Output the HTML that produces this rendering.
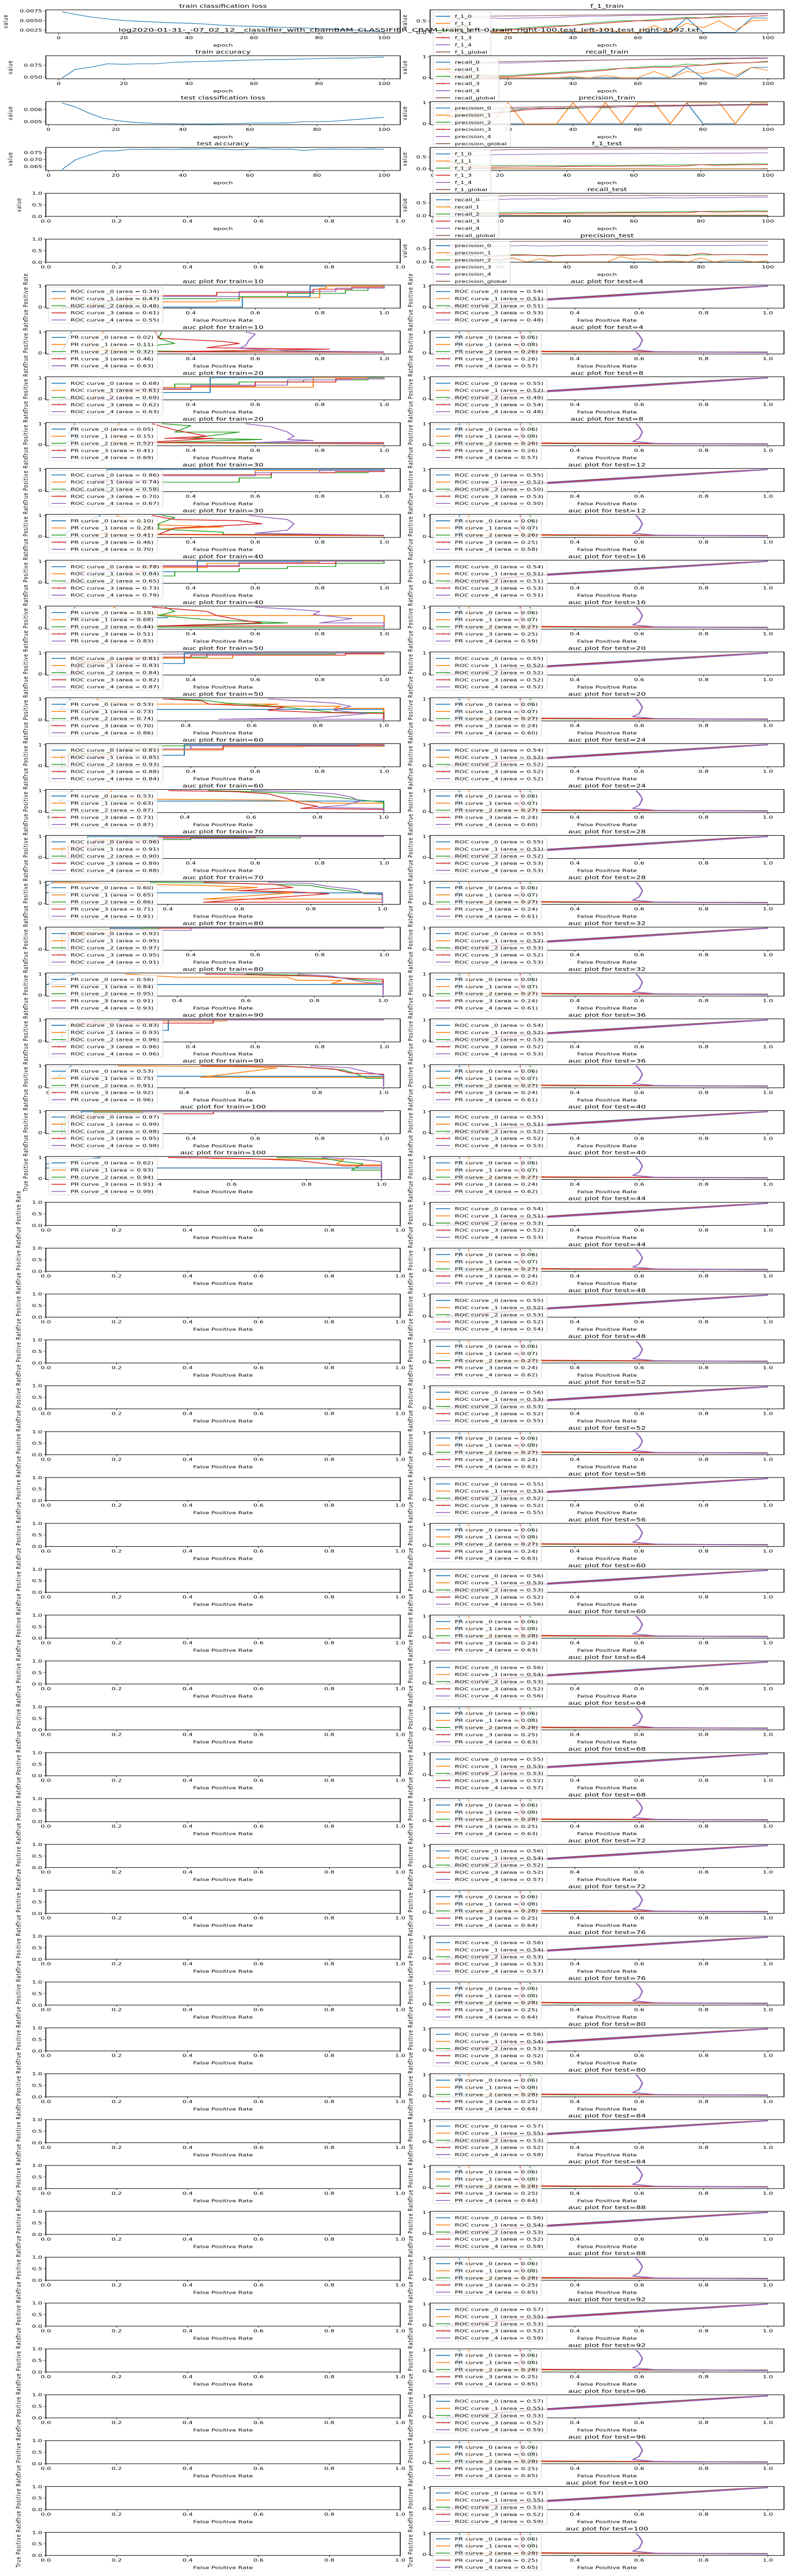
<!DOCTYPE html>
<html><head><meta charset="utf-8"><style>
html,body{margin:0;padding:0;background:#fff;overflow:hidden;width:100%;height:100%;}
svg{display:block;position:absolute;left:0;top:0;width:100vw;height:100vh;font-family:"DejaVu Sans","Liberation Sans",sans-serif;}
</style></head><body>
<svg id="fig" width="1524" height="7588" viewBox="0 0 1524 7588" preserveAspectRatio="none" xmlns="http://www.w3.org/2000/svg"></svg>
<script>
// ---------- data ----------
const epochs5 = [1,5,10,15,20,25,30,35,40,45,50,55,60,65,70,75,80,85,90,95,100];
const epochs4 = [4,8,12,16,20,24,28,32,36,40,44,48,52,56,60,64,68,72,76,80,84,88,92,96,100];
const trainLoss = [0.0073,0.0066,0.0059,0.0054,0.0050,0.0048,0.0046,0.0044,0.0043,0.0041,0.0038,0.0036,0.0035,0.0033,0.0032,0.0031,0.0029,0.0028,0.0026,0.0024,0.0021];
const trainAcc = [0.048,0.066,0.071,0.078,0.077,0.078,0.078,0.081,0.082,0.083,0.084,0.085,0.086,0.087,0.087,0.088,0.089,0.090,0.090,0.091,0.092];
const testLoss = [0.00653,0.0062,0.0057,0.0053,0.0051,0.00497,0.0049,0.00485,0.00485,0.00482,0.00482,0.0048,0.00484,0.00485,0.00487,0.00488,0.00488,0.0049,0.0050,0.0050,0.00502,0.0051,0.00518,0.00527,0.00535];
const testAcc = [0.0628,0.0698,0.073,0.0762,0.0762,0.0773,0.0772,0.0775,0.0772,0.0775,0.0775,0.0778,0.0775,0.0770,0.0772,0.0778,0.0772,0.0775,0.0765,0.0773,0.0775,0.0774,0.0772,0.0776,0.0773];
const f1Train0 = [0.1,0.05,0,0,0,0,0,0,0,0,0,0,0,0,0,0.62,0,0,0,0.62,0.62];
const f1Train1 = [0.1,0.05,0,0,0,0,0,0,0.05,0,0.15,0,0,0.3,0,0.4,0.2,0.5,0.1,0.5,0.53];
const f1Train2 = [0.2,0.25,0.15,0.1,0.15,0.2,0.25,0.3,0.3,0.4,0.45,0.5,0.5,0.55,0.6,0.65,0.62,0.7,0.68,0.7,0.72];
const f1Train3 = [0.15,0.2,0.1,0.05,0.1,0.15,0.2,0.25,0.3,0.35,0.4,0.45,0.5,0.5,0.55,0.6,0.62,0.65,0.68,0.7,0.72];
const f1Train4 = [0.45,0.55,0.6,0.62,0.6,0.62,0.63,0.65,0.68,0.7,0.7,0.72,0.73,0.74,0.75,0.76,0.77,0.78,0.78,0.79,0.8];
const f1TrainG = [0.6,0.65,0.68,0.7,0.71,0.71,0.72,0.73,0.74,0.75,0.75,0.76,0.77,0.77,0.78,0.78,0.79,0.8,0.8,0.81,0.82];
const recTrain0 = [0.05,0,0,0,0,0,0,0,0,0,0,0,0,0,0,0.5,0,0,0,0.5,0.5];
const recTrain1 = [0.1,0.05,0,0,0,0,0,0,0.05,0,0.1,0,0,0.3,0,0.3,0.2,0.4,0.1,0.5,0.35];
const recTrain2 = [0.5,0.3,0.15,0.1,0.1,0.15,0.2,0.25,0.3,0.35,0.4,0.45,0.5,0.55,0.55,0.65,0.6,0.7,0.7,0.72,0.75];
const recTrain3 = [0.3,0.2,0.1,0.05,0.05,0.1,0.15,0.2,0.25,0.3,0.35,0.45,0.45,0.5,0.5,0.55,0.6,0.65,0.7,0.72,0.78];
const recTrain4 = [0.4,0.6,0.65,0.7,0.7,0.72,0.75,0.78,0.8,0.82,0.85,0.85,0.87,0.88,0.9,0.9,0.92,0.93,0.93,0.95,0.95];
const recTrainG = [0.6,0.7,0.74,0.76,0.77,0.78,0.8,0.81,0.82,0.83,0.84,0.85,0.86,0.87,0.88,0.88,0.89,0.9,0.91,0.92,0.93];
const preTrain0 = [0.1,0,0,0,0,0,0,0,0,0,0,0,0,0,0,1,0,0,0,1,1];
const preTrain1 = [0.3,0.5,0.3,0,1,0,0,0,1,0,1,0,1,1,0,1,1,1,0,1,1];
const preTrain2 = [0.3,0.4,0.5,0.5,0.6,0.7,0.75,0.7,0.72,0.78,0.75,0.8,0.82,0.8,0.85,0.85,0.87,0.9,0.88,0.9,0.92];
const preTrain3 = [0.3,0.35,0.45,0.5,0.55,0.65,0.7,0.72,0.75,0.78,0.8,0.8,0.82,0.85,0.85,0.87,0.88,0.9,0.9,0.92,0.9];
const preTrain4 = [0.5,0.6,0.65,0.68,0.7,0.72,0.73,0.75,0.76,0.78,0.78,0.8,0.8,0.82,0.83,0.84,0.85,0.86,0.87,0.88,0.88];
const preTrainG = [0.6,0.7,0.74,0.76,0.77,0.78,0.8,0.81,0.82,0.83,0.84,0.85,0.86,0.87,0.88,0.88,0.89,0.9,0.91,0.92,0.93];
const f1Test0 = [0.1,0.05,0.02,0,0,0,0,0,0,0,0,0,0,0,0,0,0,0,0,0,0,0,0,0,0];
const f1Test1 = [0.12,0.1,0.05,0.02,0.01,0.01,0.01,0.01,0.01,0.01,0.01,0.01,0.01,0.01,0.01,0.01,0.01,0.01,0.01,0.01,0.01,0.01,0.01,0.01,0.02];
const f1Test2 = [0.35,0.25,0.18,0.14,0.13,0.14,0.15,0.14,0.13,0.13,0.14,0.15,0.15,0.14,0.15,0.16,0.16,0.17,0.17,0.18,0.18,0.19,0.2,0.21,0.21];
const f1Test3 = [0.3,0.2,0.12,0.07,0.07,0.08,0.08,0.09,0.08,0.1,0.1,0.11,0.1,0.12,0.12,0.12,0.11,0.11,0.13,0.18,0.15,0.16,0.17,0.17,0.18];
const f1Test4 = [0.45,0.52,0.55,0.58,0.6,0.6,0.61,0.62,0.62,0.63,0.63,0.63,0.64,0.64,0.64,0.65,0.65,0.64,0.65,0.65,0.66,0.66,0.66,0.67,0.67];
const f1TestG = [0.6,0.68,0.74,0.78,0.8,0.81,0.82,0.82,0.83,0.83,0.83,0.83,0.83,0.83,0.84,0.84,0.84,0.83,0.84,0.84,0.84,0.84,0.84,0.84,0.84];
const recTest0 = [0.15,0.05,0.02,0,0,0,0,0,0,0,0,0,0,0,0,0,0,0,0,0,0,0,0,0,0];
const recTest1 = [0.35,0.2,0.1,0.05,0.03,0.02,0.02,0.02,0.02,0.02,0.02,0.02,0.02,0.02,0.02,0.02,0.02,0.02,0.02,0.02,0.02,0.02,0.02,0.02,0.02];
const recTest2 = [0.4,0.25,0.15,0.12,0.12,0.13,0.13,0.12,0.12,0.12,0.13,0.13,0.13,0.14,0.14,0.15,0.15,0.16,0.16,0.16,0.17,0.17,0.18,0.19,0.18];
const recTest3 = [0.35,0.2,0.1,0.08,0.07,0.08,0.08,0.09,0.08,0.09,0.09,0.1,0.1,0.11,0.11,0.11,0.11,0.11,0.11,0.16,0.14,0.14,0.15,0.15,0.15];
const recTest4 = [0.45,0.55,0.58,0.6,0.63,0.65,0.65,0.66,0.65,0.68,0.68,0.68,0.67,0.68,0.68,0.69,0.7,0.69,0.69,0.7,0.7,0.7,0.71,0.72,0.72];
const recTestG = [0.6,0.7,0.74,0.76,0.77,0.78,0.78,0.78,0.78,0.78,0.78,0.78,0.78,0.78,0.78,0.79,0.78,0.78,0.78,0.78,0.78,0.78,0.78,0.78,0.78];
const preTest0 = [0.1,0.08,0.05,0.1,0.05,0.15,0,0,0,0,0,0,0,0,0,0,0,0,0,0,0,0,0,0,0];
const preTest1 = [0.1,0.05,0.05,0.08,0.1,0.15,0,0.12,0,0,0,0,0,0.2,0.1,0.12,0,0.05,0,0.15,0,0.07,0.06,0,0.05];
const preTest2 = [0.25,0.25,0.22,0.22,0.25,0.28,0.27,0.25,0.24,0.26,0.26,0.27,0.27,0.27,0.27,0.28,0.26,0.28,0.26,0.27,0.27,0.28,0.28,0.28,0.28];
const preTest3 = [0.3,0.28,0.25,0.2,0.22,0.25,0.26,0.24,0.22,0.25,0.25,0.27,0.28,0.25,0.26,0.28,0.26,0.25,0.24,0.33,0.27,0.28,0.28,0.27,0.27];
const preTest4 = [0.6,0.6,0.6,0.6,0.6,0.61,0.62,0.6,0.61,0.62,0.62,0.62,0.61,0.62,0.61,0.62,0.62,0.62,0.62,0.62,0.62,0.62,0.63,0.63,0.63];
const preTestG = [0.6,0.7,0.74,0.76,0.77,0.78,0.78,0.78,0.78,0.78,0.78,0.78,0.78,0.78,0.78,0.79,0.78,0.78,0.78,0.78,0.78,0.78,0.78,0.78,0.78];

const trainEpochs = [10,20,30,40,50,60,70,80,90,100];
const trainRocAreas = [[0.34,0.47,0.48,0.61,0.55],[0.68,0.61,0.69,0.62,0.63],[0.86,0.74,0.58,0.70,0.67],[0.78,0.84,0.65,0.73,0.79],[0.81,0.83,0.84,0.82,0.87],[0.81,0.85,0.93,0.88,0.84],[0.96,0.91,0.90,0.89,0.88],[0.92,0.95,0.97,0.95,0.91],[0.83,0.93,0.96,0.96,0.96],[0.97,0.99,0.98,0.95,0.98]];
const trainPrAreas = [[0.02,0.11,0.32,0.46,0.63],[0.05,0.15,0.52,0.41,0.69],[0.10,0.28,0.41,0.46,0.70],[0.19,0.68,0.44,0.51,0.83],[0.53,0.73,0.74,0.70,0.86],[0.53,0.63,0.87,0.73,0.87],[0.60,0.65,0.86,0.71,0.91],[0.56,0.84,0.95,0.91,0.93],[0.53,0.75,0.91,0.92,0.96],[0.62,0.93,0.94,0.91,0.99]];
const trainPrXmin = [-0.05,-0.05,-0.05,-0.05,-0.024,-0.02,0.059,0.017,-0.016,0.104];
const trainRocCurves = [
 [[[0,0],[0.56,0.5],[0.77,1],[1,1]],[[0,0],[0.05,0.1],[0.2,0.25],[0.48,0.3],[0.55,0.45],[0.8,0.9],[0.82,1],[1,1]],[[0,0],[0.05,0.15],[0.25,0.4],[0.55,0.5],[0.7,0.65],[0.88,0.8],[0.95,0.95],[1,1]],[[0,0],[0.1,0.3],[0.2,0.55],[0.48,0.7],[0.78,0.85],[0.9,0.95],[1,1]],[[0,0],[0.15,0.35],[0.3,0.5],[0.55,0.75],[0.85,0.9],[1,1]]],
 [[[0,0],[0.1,0.3],[0.46,0.5],[0.46,1],[1,1]],[[0,0],[0.1,0.3],[0.3,0.55],[0.78,0.75],[0.78,1],[1,1]],[[0,0],[0.15,0.5],[0.35,0.7],[0.55,0.8],[0.75,0.9],[0.95,1],[1,1]],[[0,0],[0.15,0.45],[0.4,0.6],[0.6,0.8],[0.85,0.95],[1,1]],[[0,0],[0.2,0.5],[0.4,0.65],[0.7,0.9],[0.9,0.95],[1,1]]],
 [[[0,0],[0.14,0.5],[0.14,1],[1,1]],[[0,0],[0.1,0.5],[0.3,0.75],[0.6,0.95],[1,1]],[[0,0],[0.1,0.15],[0.3,0.4],[0.55,0.6],[0.65,0.85],[0.95,0.95],[1,1]],[[0,0],[0.1,0.5],[0.3,0.75],[0.65,0.85],[0.85,0.9],[1,1]],[[0,0],[0.1,0.45],[0.3,0.7],[0.6,0.85],[0.8,0.95],[1,1]]],
 [[[0,0],[0.05,0.5],[0.42,0.5],[0.42,1],[1,1]],[[0,0],[0.05,0.6],[0.2,0.7],[0.45,0.9],[0.75,1],[1,1]],[[0,0],[0.1,0.3],[0.35,0.5],[0.55,0.65],[0.7,0.75],[0.85,0.9],[1,1]],[[0,0],[0.05,0.5],[0.25,0.75],[0.55,0.9],[0.85,1],[1,1]],[[0,0],[0.05,0.5],[0.2,0.8],[0.55,0.95],[0.8,1],[1,1]]],
 [[[0,0],[0.05,0.5],[0.38,0.5],[0.38,1],[1,1]],[[0,0],[0.05,0.6],[0.2,0.75],[0.53,0.9],[0.88,0.95],[1,1]],[[0,0],[0.05,0.55],[0.2,0.8],[0.45,0.95],[0.85,1],[1,1]],[[0,0],[0.05,0.5],[0.2,0.8],[0.4,0.9],[0.88,0.97],[1,1]],[[0,0],[0.03,0.3],[0.1,0.7],[0.3,0.95],[0.6,1],[1,1]]],
 [[[0,0],[0,0.5],[0.37,0.5],[0.38,1],[1,1]],[[0,0],[0.02,0.55],[0.2,0.75],[0.5,0.9],[0.75,0.92],[1,1]],[[0,0],[0.02,0.6],[0.15,0.85],[0.3,0.95],[1,1]],[[0,0],[0.02,0.4],[0.15,0.8],[0.5,0.97],[0.92,1],[1,1]],[[0,0],[0.02,0.2],[0.1,0.5],[0.2,0.8],[0.4,0.95],[1,1]]],
 [[[0,0],[0,0.5],[0.08,1],[1,1]],[[0,0],[0.02,0.6],[0.1,0.85],[0.3,0.95],[0.6,1],[1,1]],[[0,0],[0.02,0.5],[0.15,0.85],[0.4,0.93],[0.74,1],[1,1]],[[0,0],[0.02,0.5],[0.1,0.8],[0.3,0.97],[0.6,1],[1,1]],[[0,0],[0.05,0.6],[0.2,0.9],[0.58,1],[1,1]]],
 [[[0,0],[0,0.5],[0.15,1],[1,1]],[[0,0],[0,0.7],[0.1,0.9],[0.4,1],[1,1]],[[0,0],[0.02,0.8],[0.1,0.95],[0.25,1],[1,1]],[[0,0],[0.02,0.75],[0.15,0.95],[0.3,1],[1,1]],[[0,0],[0.02,0.5],[0.2,0.9],[0.4,1],[1,1]]],
 [[[0,0],[0,0.5],[0.33,0.5],[0.33,1],[1,1]],[[0,0],[0.02,0.7],[0.1,0.95],[0.51,0.97],[0.51,1],[1,1]],[[0,0],[0.02,0.8],[0.1,0.95],[0.2,1],[1,1]],[[0,0],[0.05,0.85],[0.47,0.97],[0.47,1],[1,1]],[[0,0],[0.05,0.8],[0.18,1],[1,1]]],
 [[[0,0],[0,0.5],[0.06,1],[1,1]],[[0,0],[0.02,0.8],[0.1,1],[1,1]],[[0,0],[0.01,0.7],[0.1,0.97],[0.25,1],[1,1]],[[0,0],[0.02,0.6],[0.1,0.9],[0.47,0.97],[0.47,1],[1,1]],[[0,0],[0.02,0.85],[0.25,1],[1,1]]]
];
const trainPrCurves = [
 [[[0.03,1],[0.0,0.05]],[[0.13,1],[0.1,0.6],[0.08,0.25],[0.2,0.2],[0.1,0.1],[1,0.03]],[[0.31,1],[0.3,0.7],[0.35,0.45],[0.25,0.3],[0.2,0.1],[0.6,0.05],[1,0.05]],[[0.29,1],[0.3,0.7],[0.5,0.55],[0.55,0.45],[0.45,0.25],[0.83,0.18],[0.3,0.05],[1,0.03]],[[0.57,1],[0.6,0.9],[0.58,0.6],[0.57,0.35],[0.55,0.22],[0.7,0.1],[1,0.05]]],
 [[[0.04,1],[0.02,0.5],[0.05,0.3],[0,0.05]],[[0.18,1],[0.15,0.6],[0.2,0.3],[0.15,0.1],[1,0.03]],[[0.31,1],[0.4,0.9],[0.35,0.6],[0.55,0.6],[0.4,0.3],[0.62,0.25],[0.3,0.1],[1,0.05]],[[0.28,1],[0.35,0.7],[0.45,0.4],[0.32,0.3],[0.47,0.3],[0.25,0.1],[1,0.1]],[[0.57,1],[0.65,0.85],[0.7,0.6],[0.72,0.4],[0.7,0.25],[0.78,0.2],[0.6,0.1],[1,0.05]]],
 [[[0.12,1],[0.05,0.5],[0,0.05]],[[0.17,1],[0.2,0.8],[0.3,0.55],[0.5,0.45],[0.2,0.3],[0.1,0.1],[1,0.02]],[[0.31,1],[0.35,0.9],[0.3,0.6],[0.3,0.35],[0.5,0.2],[0.5,0.1],[0.75,0.08],[1,0.05]],[[0.28,1],[0.35,0.8],[0.55,0.75],[0.62,0.6],[0.35,0.4],[0.3,0.1],[1,0.05]],[[0.58,1],[0.7,0.8],[0.72,0.6],[0.7,0.3],[0.6,0.15],[1,0.05]]],
 [[[0.04,1],[0.02,0.5],[0.33,0.5]],[[0.16,1],[0.2,0.7],[0.35,0.6],[1,0.6],[1,0.02]],[[0.32,1],[0.35,0.8],[0.3,0.6],[0.45,0.4],[0.7,0.25],[0.2,0.05],[1,0.02]],[[0.28,1],[0.45,0.8],[0.48,0.6],[0.55,0.4],[0.62,0.25],[0.3,0.1],[1,0.1]],[[0.6,1],[0.72,0.9],[0.8,0.8],[0.78,0.65],[0.9,0.45],[0.8,0.25],[1,0.25],[1,0.02]]],
 [[[0.05,1],[0.02,0.5],[1,0.5],[1,0]],[[0.13,1],[0.15,0.85],[0.3,0.75],[0.68,0.75],[0.6,0.65],[0.87,0.65],[0.85,0.55],[1,0.55],[1,0]],[[0.35,1],[0.45,0.95],[0.52,0.8],[0.62,0.7],[0.7,0.6],[0.78,0.48],[0.85,0.35],[1,0.35],[1,0]],[[0.33,1],[0.45,0.9],[0.47,0.75],[0.7,0.6],[0.65,0.45],[0.8,0.35],[1,0.3],[1,0]],[[0.65,1],[0.75,0.9],[0.85,0.8],[0.9,0.65],[0.85,0.45],[0.95,0.3],[0.8,0.1],[0.5,0.03],[1,0.03]]],
 [[[0.06,1],[0.02,0.5],[1,0.5],[1,0]],[[0.18,1],[0.15,0.6],[0.65,0.55],[0.8,0.45],[0.82,0.4],[1,0.4],[1,0]],[[0.47,1],[0.6,0.95],[0.75,0.85],[0.85,0.7],[0.93,0.55],[1,0.45],[1,0]],[[0.35,1],[0.55,0.95],[0.65,0.85],[0.7,0.65],[0.75,0.4],[0.8,0.25],[0.75,0.15],[1,0.1],[1,0]],[[0.6,1],[0.75,0.95],[0.85,0.85],[0.9,0.7],[0.93,0.5],[0.88,0.3],[0.8,0.2],[1,0.15],[1,0]]],
 [[[0.08,1],[0.02,0.5],[1,0.5],[1,0]],[[0.08,1],[0.35,0.9],[0.5,0.85],[0.65,0.75],[0.55,0.65],[0.75,0.5],[0.5,0.2],[1,0.2],[1,0]],[[0.35,1],[0.6,0.95],[0.8,0.85],[0.85,0.7],[0.95,0.5],[1,0.4],[1,0]],[[0.5,1],[0.7,0.9],[0.75,0.75],[0.6,0.6],[0.75,0.55],[0.85,0.45],[0.5,0.05],[1,0.05],[1,0]],[[0.68,1],[0.8,0.95],[0.85,0.8],[0.93,0.65],[0.95,0.45],[1,0.45],[1,0]]],
 [[[0.1,1],[0.02,0.5],[1,0.5],[1,0]],[[0.25,1],[0.4,0.85],[0.72,0.85],[0.75,0.7],[0.88,0.7],[0.85,0.55],[1,0.55],[1,0]],[[0.6,1],[0.75,0.95],[0.85,0.85],[0.95,0.7],[1,0.65],[1,0]],[[0.48,1],[0.65,0.95],[0.8,0.9],[0.9,0.8],[1,0.75],[1,0]],[[0.75,1],[0.85,0.9],[0.9,0.75],[0.95,0.6],[1,0.55],[1,0]]],
 [[[0.06,1],[0.02,0.5],[1,0.5],[1,0]],[[0.2,1],[0.6,0.95],[0.68,0.9],[0.45,0.45],[1,0.45],[1,0]],[[0.55,1],[0.75,0.95],[0.88,0.8],[0.92,0.6],[0.95,0.4],[1,0.4],[1,0]],[[0.45,1],[0.7,0.98],[0.85,0.85],[0.9,0.65],[1,0.6],[1,0]],[[0.78,1],[0.9,0.9],[0.95,0.7],[1,0.55],[1,0]]],
 [[[0.25,1],[0.02,0.5],[1,0.5],[1,0]],[[0.53,1],[0.55,0.95],[0.9,0.9],[0.88,0.7],[0.9,0.65],[1,0.65],[1,0]],[[0.72,1],[0.85,0.95],[0.9,0.8],[0.95,0.7],[0.92,0.4],[1,0.4],[1,0]],[[0.43,1],[0.65,0.95],[0.78,0.85],[0.85,0.7],[0.9,0.6],[1,0.6],[1,0]],[[0.84,1],[0.9,0.95],[0.95,0.9],[1,0.8],[1,0]]]
];
const testRocShape = [[[0,0],[0.1,0.12],[0.3,0.37],[0.5,0.56],[0.7,0.75],[0.9,0.93],[1,1]],[[0,0],[0.1,0.1],[0.3,0.33],[0.5,0.53],[0.7,0.73],[0.9,0.92],[1,1]],[[0,0],[0.1,0.11],[0.3,0.33],[0.5,0.52],[0.7,0.72],[0.9,0.91],[1,1]],[[0,0],[0.1,0.12],[0.3,0.35],[0.5,0.54],[0.7,0.72],[0.9,0.92],[1,1]],[[0,0],[0.1,0.1],[0.3,0.32],[0.5,0.5],[0.7,0.7],[0.9,0.9],[1,1]]];
const testPrShape = [[[0.04,1],[0.045,0.8],[0.035,0.5],[0.04,0.2],[0.06,0.06],[0.5,0.05],[1,0.03]],[[0.07,1],[0.075,0.6],[0.07,0.3],[0.08,0.06],[1,0.03]],[[0.26,1],[0.27,0.7],[0.26,0.3],[0.27,0.1],[0.35,0.05],[1,0.04]],[[0.23,1],[0.235,0.6],[0.225,0.3],[0.24,0.08],[1,0.03]],[[0.59,1],[0.6,0.85],[0.61,0.6],[0.6,0.3],[0.58,0.15],[0.65,0.06],[1,0.02]]];
const testRocArea0 = [0.54,0.55,0.55,0.54,0.55,0.54,0.55,0.55,0.54,0.55,0.54,0.55,0.56,0.55,0.56,0.56,0.55,0.56,0.56,0.56,0.57,0.56,0.57,0.57,0.57];
const testRocArea1 = [0.51,0.52,0.52,0.51,0.52,0.52,0.51,0.52,0.52,0.51,0.51,0.52,0.53,0.53,0.53,0.54,0.53,0.54,0.54,0.54,0.55,0.54,0.55,0.55,0.55];
const testRocArea2 = [0.51,0.49,0.50,0.51,0.52,0.52,0.52,0.53,0.53,0.52,0.53,0.53,0.53,0.52,0.53,0.53,0.53,0.52,0.53,0.53,0.53,0.53,0.53,0.53,0.53];
const testRocArea3 = [0.53,0.54,0.53,0.53,0.52,0.52,0.53,0.52,0.52,0.52,0.52,0.52,0.52,0.52,0.52,0.52,0.52,0.52,0.53,0.52,0.52,0.52,0.52,0.52,0.52];
const testRocArea4 = [0.48,0.48,0.50,0.51,0.52,0.52,0.53,0.53,0.53,0.53,0.53,0.54,0.55,0.55,0.56,0.56,0.57,0.57,0.57,0.58,0.58,0.58,0.59,0.59,0.59];
const testPrArea0 = [0.06,0.06,0.06,0.06,0.06,0.06,0.06,0.06,0.06,0.06,0.06,0.06,0.06,0.06,0.06,0.06,0.06,0.06,0.06,0.06,0.06,0.06,0.06,0.06,0.06];
const testPrArea1 = [0.08,0.08,0.07,0.07,0.07,0.07,0.07,0.07,0.07,0.07,0.07,0.07,0.08,0.08,0.08,0.08,0.08,0.08,0.08,0.08,0.08,0.08,0.08,0.08,0.08];
const testPrArea2 = [0.26,0.26,0.26,0.27,0.27,0.27,0.27,0.27,0.27,0.27,0.27,0.27,0.27,0.27,0.28,0.28,0.28,0.28,0.28,0.28,0.28,0.28,0.28,0.28,0.28];
const testPrArea3 = [0.26,0.26,0.25,0.25,0.24,0.24,0.24,0.24,0.24,0.24,0.24,0.24,0.24,0.24,0.24,0.25,0.25,0.25,0.25,0.25,0.25,0.25,0.25,0.25,0.25];
const testPrArea4 = [0.57,0.57,0.58,0.59,0.60,0.60,0.61,0.61,0.61,0.62,0.62,0.62,0.62,0.63,0.63,0.63,0.63,0.64,0.64,0.64,0.64,0.65,0.65,0.65,0.65];

// ---------- drawing ----------
const NS = 'http://www.w3.org/2000/svg';
const svg = document.getElementById('fig');
const COLORS = ['#1f77b4','#ff7f0e','#2ca02c','#d62728','#9467bd','#8c564b'];
const COLS = [{x:89,w:688},{x:835,w:687}];
const H = 68;
function rowTop(r){ return 29 + 135.1*r; }
function mk(tag, attrs, parent){
  const e = document.createElementNS(NS, tag);
  for (const k in attrs) e.setAttribute(k, attrs[k]);
  (parent||svg).appendChild(e);
  return e;
}
function txt(parent, x, y, s, size, anchor, extra){
  const t = mk('text', Object.assign({x:x, y:y, 'font-size':size, 'text-anchor':anchor||'middle', fill:'#000'}, extra||{}), parent);
  t.textContent = s;
  return t;
}
let clipId = 0;
function axes(name, col, row, o){
  const X = COLS[col].x, W = COLS[col].w, T = rowTop(row);
  const g = mk('g', {});
  
  
  const sx = v => X + (v - o.xlim[0]) / (o.xlim[1] - o.xlim[0]) * W;
  const sy = v => T + H - (v - o.ylim[0]) / (o.ylim[1] - o.ylim[0]) * H;
  mk('rect', {x:X, y:T, width:W, height:H, fill:'#fff'}, g);
  const cid = 'c' + (clipId++);
  const cp = mk('clipPath', {id:cid}, g);
  mk('rect', {x:X, y:T, width:W, height:H}, cp);
  const plot = mk('g', {'clip-path':'url(#'+cid+')'}, g);
  
  
  const tg = mk('g', {}, g);
  
  
  o.xticks.forEach((v,i) => {
    if (v < o.xlim[0]-1e-9 || v > o.xlim[1]+1e-9) return;
    const px = sx(v);
    mk('line', {x1:px, x2:px, y1:T+H, y2:T+H+4.5, stroke:'#000', 'stroke-width':1}, tg);
    txt(tg, px, T+H+18, o.xtl[i], 12.5);
  });
  o.yticks.forEach((v,i) => {
    const py = sy(v);
    mk('line', {x1:X-4.5, x2:X, y1:py, y2:py, stroke:'#000', 'stroke-width':1}, tg);
    txt(tg, X-7, py+4.5, o.ytl[i], 12.5, 'end');
  });
  if (o.title){
    const t = txt(g, X + W/2, T - 6, o.title, 15);
    
  }
  if (o.xlabel){
    const t = txt(g, X + W/2, T + H + 40, o.xlabel, 12.5);
    
  }
  if (o.ylabel){
    const cy = T + H/2;
    const t = txt(g, o.ylx, cy, o.ylabel, 12.5, 'middle', {transform:'rotate(-90 '+o.ylx+' '+cy+')', 'letter-spacing':'1.5'});
    
  }
  const ax = {g, plot, sx, sy, X, W, T, name};
  ax.finish = () => {
    mk('rect', {x:X, y:T, width:W, height:H, fill:'none', stroke:'#000', 'stroke-width':1.6}, g);
  };
  return ax;
}
function series(ax, xs, ys, color, width, label){
  const pts = xs.map((x,i) => ax.sx(x).toFixed(1) + ',' + ax.sy(ys[i]).toFixed(1)).join(' ');
  const p = mk('polyline', {points:pts, fill:'none', stroke:color, 'stroke-width':width, 'stroke-linejoin':'round'}, ax.plot);
  
  
}
function curve(ax, pts, color, width, step, label){
  let d = 'M' + ax.sx(pts[0][0]).toFixed(1) + ' ' + ax.sy(pts[0][1]).toFixed(1);
  for (let i = 1; i < pts.length; i++){
    if (step){
      d += ' H' + ax.sx(pts[i][0]).toFixed(1) + ' V' + ax.sy(pts[i][1]).toFixed(1);
    } else {
      d += ' L' + ax.sx(pts[i][0]).toFixed(1) + ' ' + ax.sy(pts[i][1]).toFixed(1);
    }
  }
  const p = mk('path', {d:d, fill:'none', stroke:color, 'stroke-width':width, 'stroke-linejoin':'round'}, ax.plot);
  
  
}
function legend(ax, labels){
  const g = mk('g', {}, ax.g);
  
  
  const x0 = ax.X + 6, y0 = ax.T + 6;
  const box = mk('rect', {x:x0, y:y0, width:100, height:labels.length*21 + 2, rx:3, fill:'#fff', 'fill-opacity':0.8, stroke:'#cccccc', 'stroke-width':1}, g);
  let maxw = 0;
  labels.forEach((lab, i) => {
    const cy = y0 + 13 + i*21;
    const ln = mk('line', {x1:x0+5, x2:x0+33, y1:cy, y2:cy, stroke:COLORS[i], 'stroke-width':2.5}, g);
    
    const t = txt(g, x0+42, cy+4.5, lab, 12.5, 'start');
    
    maxw = Math.max(maxw, t.getComputedTextLength());
  });
  box.setAttribute('width', 42 + maxw + 7);
}

const tick20 = [0,20,40,60,80,100];
const tick20L = ['0','20','40','60','80','100'];
const fprT = [0,0.2,0.4,0.6,0.8,1.0];
const fprL = ['0.0','0.2','0.4','0.6','0.8','1.0'];

const metricLeft = [
  {name:'train-loss-chart', row:0, title:'train classification loss', xs:epochs5, ys:trainLoss, xlim:[-3.95,104.95], ylim:[0.0018,0.00776], yt:[0.0025,0.005,0.0075], ytl:['0.0025','0.0050','0.0075'], ylx:15},
  {name:'train-accuracy-chart', row:1, title:'train accuracy', xs:epochs5, ys:trainAcc, xlim:[-3.95,104.95], ylim:[0.0464,0.095], yt:[0.05,0.075], ytl:['0.050','0.075'], ylx:24},
  {name:'test-loss-chart', row:2, title:'test classification loss', xs:epochs4, ys:testLoss, xlim:[-0.8,104.8], ylim:[0.00475,0.00664], yt:[0.005,0.006], ytl:['0.005','0.006'], ylx:24},
  {name:'test-accuracy-chart', row:3, title:'test accuracy', xs:epochs4, ys:testAcc, xlim:[-0.8,104.8], ylim:[0.0621,0.0787], yt:[0.065,0.07,0.075], ytl:['0.065','0.070','0.075'], ylx:24}
];
const axesList = [];
metricLeft.forEach(m => {
  const ax = axes(m.name, 0, m.row, {xlim:m.xlim, ylim:m.ylim, xticks:tick20, xtl:tick20L, yticks:m.yt, ytl:m.ytl, title:m.title, xlabel:'epoch', ylabel:'value', ylx:m.ylx});
  series(ax, m.xs, m.ys, COLORS[0], 1.8, m.name + '-line');
  axesList.push([ax, null]);
});
const metricRight = [
  {name:'f1-train-chart', row:0, title:'f_1_train', pre:'f_1_', xs:epochs5, data:[f1Train0,f1Train1,f1Train2,f1Train3,f1Train4,f1TrainG], xlim:[-3.95,104.95], ylim:[-0.02,0.97], yt:[0,0.5], ytl:['0.0','0.5']},
  {name:'recall-train-chart', row:1, title:'recall_train', pre:'recall_', xs:epochs5, data:[recTrain0,recTrain1,recTrain2,recTrain3,recTrain4,recTrainG], xlim:[-3.95,104.95], ylim:[-0.05,1.05], yt:[0,1], ytl:['0','1']},
  {name:'precision-train-chart', row:2, title:'precision_train', pre:'precision_', xs:epochs5, data:[preTrain0,preTrain1,preTrain2,preTrain3,preTrain4,preTrainG], xlim:[-3.95,104.95], ylim:[-0.05,1.05], yt:[0,1], ytl:['0','1']},
  {name:'f1-test-chart', row:3, title:'f_1_test', pre:'f_1_', xs:epochs4, data:[f1Test0,f1Test1,f1Test2,f1Test3,f1Test4,f1TestG], xlim:[-0.8,104.8], ylim:[-0.07,0.9], yt:[0,0.5], ytl:['0.0','0.5']},
  {name:'recall-test-chart', row:4, title:'recall_test', pre:'recall_', xs:epochs4, data:[recTest0,recTest1,recTest2,recTest3,recTest4,recTestG], xlim:[-0.8,104.8], ylim:[-0.03,0.87], yt:[0,0.5], ytl:['0.0','0.5']},
  {name:'precision-test-chart', row:5, title:'precision_test', pre:'precision_', xs:epochs4, data:[preTest0,preTest1,preTest2,preTest3,preTest4,preTestG], xlim:[-0.8,104.8], ylim:[-0.01,0.86], yt:[0,0.5], ytl:['0.0','0.5']}
];
metricRight.forEach(m => {
  const ax = axes(m.name, 1, m.row, {xlim:m.xlim, ylim:m.ylim, xticks:tick20, xtl:tick20L, yticks:m.yt, ytl:m.ytl, title:m.title, xlabel:'epoch', ylabel:'value', ylx:790});
  const labels = [];
  m.data.forEach((ys, i) => {
    const lab = m.pre + (i < 5 ? i : 'global');
    labels.push(lab);
    series(ax, m.xs, ys, COLORS[i], 1.8, m.name + '-' + lab);
  });
  axesList.push([ax, labels]);
});
[4,5].forEach(r => {
  const ax = axes('empty-axes-row-' + r, 0, r, {xlim:[0,1], ylim:[0,1], xticks:fprT, xtl:fprL, yticks:[0,0.5,1], ytl:['0.0','0.5','1.0'], xlabel: r===4 ? 'epoch' : null, ylabel: r===4 ? 'value' : null, ylx:41});
  axesList.push([ax, null]);
});
trainEpochs.forEach((ep, k) => {
  const rocAx = axes('roc-train-' + ep, 0, 6 + 2*k, {xlim:[-0.05,1.05], ylim:[-0.05,1.05], xticks:fprT, xtl:fprL, yticks:[0,1], ytl:['0','1'], title:'auc plot for train=' + ep, xlabel:'False Positive Rate', ylabel:'True Positive Rate', ylx:54});
  const rl = [];
  trainRocCurves[k].forEach((pts, i) => {
    curve(rocAx, pts, COLORS[i], 2.2, true, 'roc-train-' + ep + '-class-' + i);
    rl.push('ROC curve _' + i + ' (area = ' + trainRocAreas[k][i].toFixed(2) + ')');
  });
  axesList.push([rocAx, rl]);
  const prAx = axes('pr-train-' + ep, 0, 7 + 2*k, {xlim:[trainPrXmin[k],1.05], ylim:[-0.05,1.05], xticks:fprT, xtl:fprL, yticks:[0,1], ytl:['0','1'], title:'auc plot for train=' + ep, xlabel:'False Positive Rate', ylabel:'True Positive Rate', ylx:54});
  const pl = [];
  trainPrCurves[k].forEach((pts, i) => {
    curve(prAx, pts, COLORS[i], 2.4, false, 'pr-train-' + ep + '-class-' + i);
    pl.push('PR curve _' + i + ' (area = ' + trainPrAreas[k][i].toFixed(2) + ')');
  });
  axesList.push([prAx, pl]);
});
for (let r = 26; r < 56; r++){
  const ax = axes('empty-axes-row-' + r, 0, r, {xlim:[0,1], ylim:[0,1], xticks:fprT, xtl:fprL, yticks:[0,0.5,1], ytl:['0.0','0.5','1.0'], xlabel:'False Positive Rate', ylabel:'True Positive Rate', ylx:40});
  axesList.push([ax, null]);
}
const rocAreasTest = [testRocArea0,testRocArea1,testRocArea2,testRocArea3,testRocArea4];
const prAreasTest = [testPrArea0,testPrArea1,testPrArea2,testPrArea3,testPrArea4];
epochs4.forEach((ep, k) => {
  const rocAx = axes('roc-test-' + ep, 1, 6 + 2*k, {xlim:[-0.05,1.05], ylim:[-0.05,1.05], xticks:fprT, xtl:fprL, yticks:[0,1], ytl:['0','1'], title:'auc plot for test=' + ep, xlabel:'False Positive Rate', ylabel:'True Positive Rate', ylx:801});
  const rl = [];
  testRocShape.forEach((pts, i) => {
    curve(rocAx, pts, COLORS[i], 3.2, false, 'roc-test-' + ep + '-class-' + i);
    rl.push('ROC curve _' + i + ' (area = ' + rocAreasTest[i][k].toFixed(2) + ')');
  });
  axesList.push([rocAx, rl]);
  const prAx = axes('pr-test-' + ep, 1, 7 + 2*k, {xlim:[-0.05,1.05], ylim:[-0.05,1.05], xticks:fprT, xtl:fprL, yticks:[0,1], ytl:['0','1'], title:'auc plot for test=' + ep, xlabel:'False Positive Rate', ylabel:'True Positive Rate', ylx:801});
  const pl = [];
  testPrShape.forEach((pts, i) => {
    curve(prAx, pts, COLORS[i], 2.8, false, 'pr-test-' + ep + '-class-' + i);
    pl.push('PR curve _' + i + ' (area = ' + prAreasTest[i][k].toFixed(2) + ')');
  });
  axesList.push([prAx, pl]);
});
axesList.forEach(([ax, labels]) => {
  ax.finish();
  if (labels) legend(ax, labels);
});
const sup = txt(svg, 794, 93, 'log2020-01-31-_-07_02_12__classifier_with_cbamBAM_CLASSIFIER_CBAM_train_left-0,train_right-100,test_left-101,test_right-2592.txt', 15, 'middle', {textLength:1128, lengthAdjust:'spacingAndGlyphs'});


</script>
</body></html>
